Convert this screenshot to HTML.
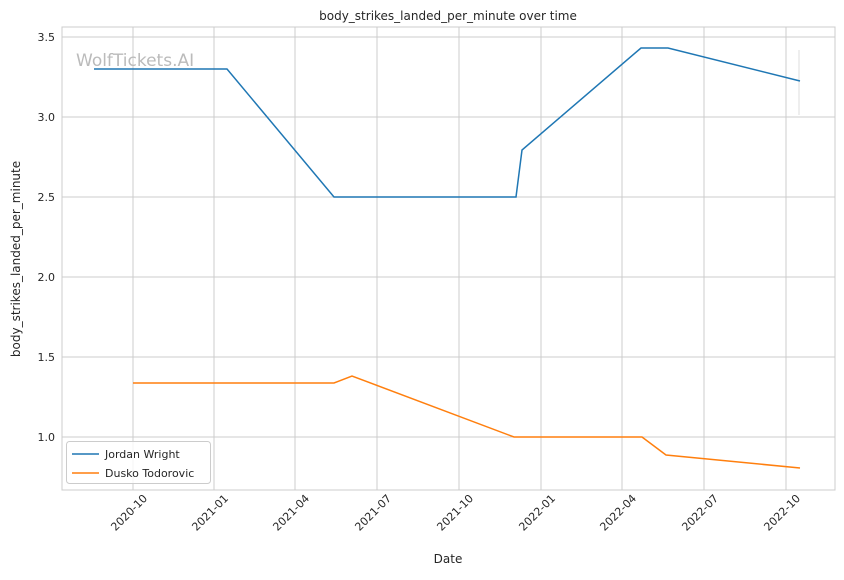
<!DOCTYPE html>
<html><head><meta charset="utf-8"><style>
body{margin:0;background:#fff;}
svg text{font-family:"DejaVu Sans","Liberation Sans",sans-serif;fill:#262626;}
</style></head><body>
<svg width="844" height="575" viewBox="0 0 844 575" xmlns="http://www.w3.org/2000/svg">
<rect width="844" height="575" fill="#fff"/>
<g stroke="#cccccc" stroke-width="1">
<line x1="133" y1="27" x2="133" y2="490"/><line x1="214" y1="27" x2="214" y2="490"/>
<line x1="295" y1="27" x2="295" y2="490"/><line x1="377" y1="27" x2="377" y2="490"/>
<line x1="459" y1="27" x2="459" y2="490"/><line x1="541" y1="27" x2="541" y2="490"/>
<line x1="622" y1="27" x2="622" y2="490"/><line x1="704" y1="27" x2="704" y2="490"/>
<line x1="786" y1="27" x2="786" y2="490"/>
<line x1="62" y1="37" x2="835" y2="37"/><line x1="62" y1="117" x2="835" y2="117"/>
<line x1="62" y1="197" x2="835" y2="197"/><line x1="62" y1="277" x2="835" y2="277"/>
<line x1="62" y1="357" x2="835" y2="357"/><line x1="62" y1="437" x2="835" y2="437"/>
</g>
<rect x="62" y="27" width="773" height="463" fill="none" stroke="#cccccc"/>
<line x1="799" y1="50" x2="799" y2="115" stroke="#dddddd"/>
<text x="76" y="66" font-size="17" style="fill:#bbbbbb">WolfTickets.AI</text>
<polyline fill="none" stroke="#1f77b4" stroke-width="1.5" points="94,69 227,69 334,197 516,197 522,150 641,48 668,48 800,81"/>
<polyline fill="none" stroke="#ff7f0e" stroke-width="1.5" points="133,383 334,383 352,376 514,437 642,437 666,455 800,468"/>
<g font-size="11" text-anchor="end">
<text x="55" y="41">3.5</text><text x="55" y="121">3.0</text><text x="55" y="201">2.5</text>
<text x="55" y="281">2.0</text><text x="55" y="361">1.5</text><text x="55" y="441">1.0</text>
</g>
<g font-size="11" text-anchor="end">
<text transform="translate(148,499) rotate(-45)">2020-10</text>
<text transform="translate(229,499) rotate(-45)">2021-01</text>
<text transform="translate(310,499) rotate(-45)">2021-04</text>
<text transform="translate(392,499) rotate(-45)">2021-07</text>
<text transform="translate(474,499) rotate(-45)">2021-10</text>
<text transform="translate(556,499) rotate(-45)">2022-01</text>
<text transform="translate(637,499) rotate(-45)">2022-04</text>
<text transform="translate(719,499) rotate(-45)">2022-07</text>
<text transform="translate(801,499) rotate(-45)">2022-10</text>
</g>
<text x="448" y="563" font-size="12" text-anchor="middle">Date</text>
<text transform="translate(20,259) rotate(-90)" font-size="12" text-anchor="middle">body_strikes_landed_per_minute</text>
<text x="448" y="20" font-size="12" text-anchor="middle">body_strikes_landed_per_minute over time</text>
<rect x="66.5" y="441.5" width="144" height="42" fill="#fff" fill-opacity="0.8" stroke="#cccccc" rx="3"/>
<line x1="72" y1="454" x2="99" y2="454" stroke="#1f77b4" stroke-width="1.5"/>
<text x="105" y="458" font-size="11">Jordan Wright</text>
<line x1="72" y1="473" x2="99" y2="473" stroke="#ff7f0e" stroke-width="1.5"/>
<text x="105" y="477" font-size="11">Dusko Todorovic</text>
</svg>
</body></html>
